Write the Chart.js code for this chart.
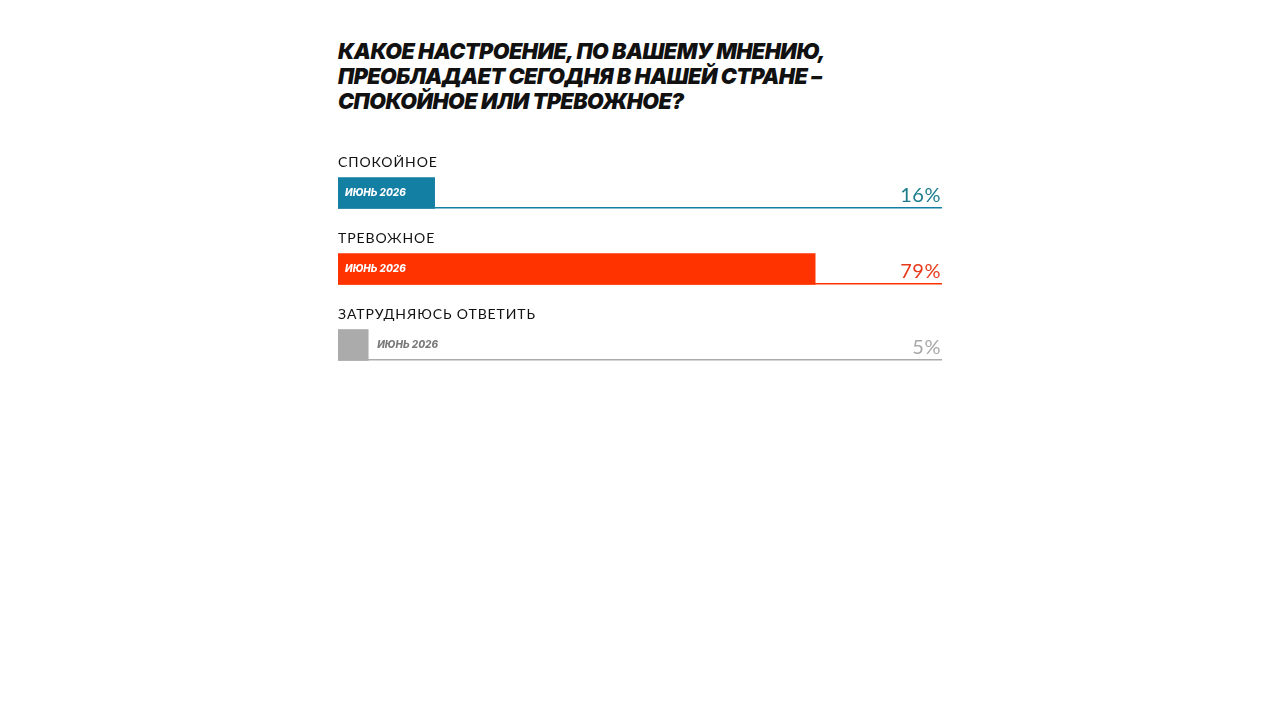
<!DOCTYPE html>
<html>
<head>
<meta charset="utf-8">
<script src="https://cdn.jsdelivr.net/npm/chart.js@4.4.1/dist/chart.umd.min.js"></script>
<style>
  html, body { margin: 0; padding: 0; background: #fff; }
  body { width: 1280px; height: 720px; position: relative; overflow: hidden; }
  h1 {
    position: absolute; left: 338px; top: 39px; margin: 0;
    font-family: Inter, "Open Sans", sans-serif; font-weight: 900; font-style: italic;
    font-size: 21.5px; line-height: 25px; letter-spacing: -0.5px; color: #111;
  }
  #wrap { position: absolute; left: 338px; top: 131px; width: 604px; height: 272px; }
</style>
</head>
<body>
<h1>КАКОЕ НАСТРОЕНИЕ, ПО ВАШЕМУ МНЕНИЮ,<br>ПРЕОБЛАДАЕТ СЕГОДНЯ В НАШЕЙ СТРАНЕ –<br>СПОКОЙНОЕ ИЛИ ТРЕВОЖНОЕ?</h1>
<div id="wrap"><canvas id="moodChart"></canvas></div>
<script>
// answers and June 2026 shares, %
const answers = ["СПОКОЙНОЕ", "ТРЕВОЖНОЕ", "ЗАТРУДНЯЮСЬ ОТВЕТИТЬ"];
const shares = [16, 79, 5];
const period = "ИЮНЬ 2026";

const barColors = ["#137fa3", "#ff3300", "#ababab"];
const pctColors = ["#1b7d8c", "#e8391c", "#a8a8a8"];

// labels above bars, period tag, percent at right, baseline under each row
const rowDecor = {
  id: "rowDecor",
  afterDatasetsDraw(chart) {
    const ctx = chart.ctx;
    const area = chart.chartArea;
    const bars = chart.getDatasetMeta(0).data;
    ctx.save();
    bars.forEach((bar, i) => {
      const top = bar.y - bar.height / 2;
      const bottom = bar.y + bar.height / 2;

      ctx.fillStyle = barColors[i];
      ctx.fillRect(area.left, bottom - 1.5, area.right - area.left, 1.5);

      ctx.letterSpacing = "0.9px";
      ctx.font = "400 14px Lato, sans-serif";
      ctx.fillStyle = "#111";
      ctx.textAlign = "left";
      ctx.textBaseline = "alphabetic";
      ctx.fillText(answers[i], area.left, top - 11);

      ctx.letterSpacing = "0px";
      ctx.font = "italic 800 10px Inter, sans-serif";
      ctx.textBaseline = "middle";
      if (bar.x - area.left > 80) {
        ctx.fillStyle = "#fff";
        ctx.fillText(period, area.left + 7, bar.y);
      } else {
        ctx.fillStyle = "#7a7a7a";
        ctx.fillText(period, bar.x + 9, bar.y);
      }

      ctx.letterSpacing = "0.5px";
      ctx.font = "400 20px Lato, sans-serif";
      ctx.fillStyle = pctColors[i];
      ctx.textAlign = "right";
      ctx.textBaseline = "alphabetic";
      ctx.fillText(shares[i] + "%", area.right - 1, bottom - 7);
    });
    ctx.restore();
  }
};

new Chart(document.getElementById("moodChart"), {
  type: "bar",
  data: {
    labels: answers,
    datasets: [{
      data: shares,
      backgroundColor: barColors,
      barThickness: 31,
      borderWidth: 0
    }]
  },
  options: {
    indexAxis: "y",
    responsive: true,
    maintainAspectRatio: false,
    animation: false,
    layout: { padding: { top: 24, bottom: 20, left: 0, right: 0 } },
    scales: {
      x: { min: 0, max: 100, display: false },
      y: { display: false }
    },
    plugins: {
      legend: { display: false },
      tooltip: { enabled: false }
    }
  },
  plugins: [rowDecor]
});
</script>
</body>
</html>
